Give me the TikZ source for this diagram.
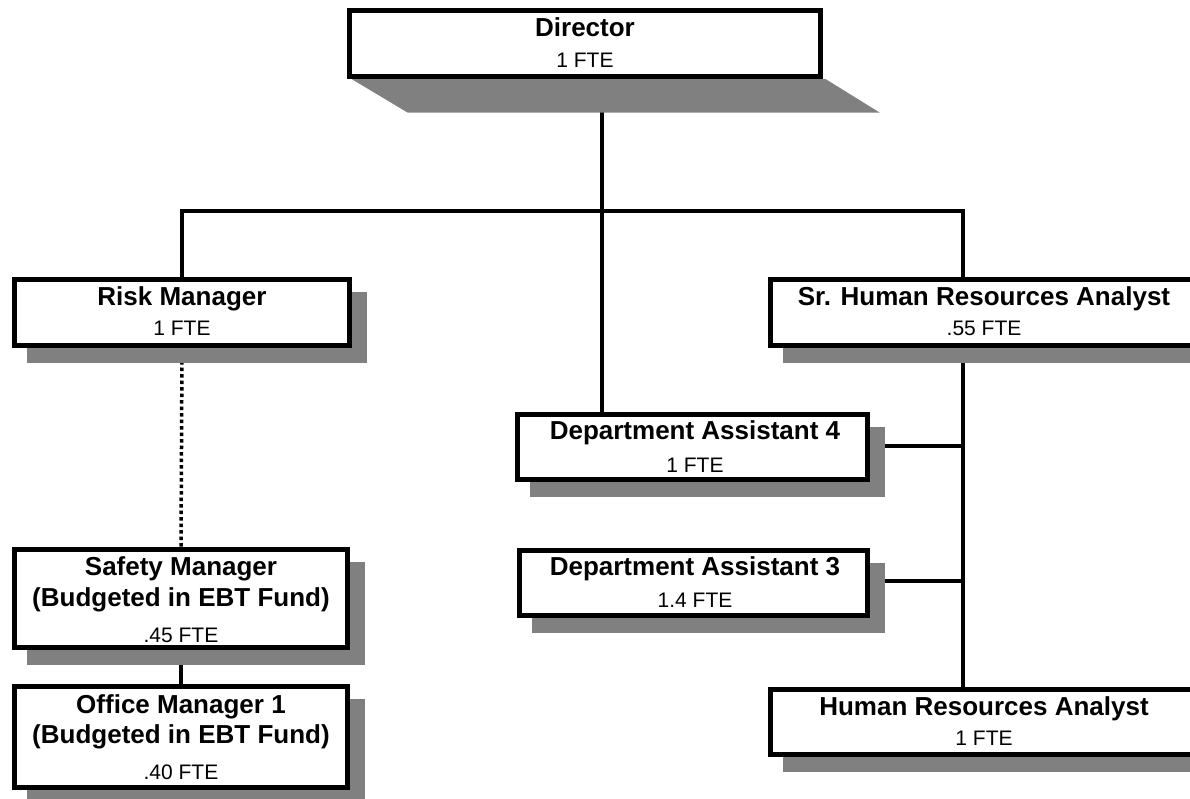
\documentclass[tikz,border=0pt]{standalone}
\usepackage{fontspec}
\setmainfont{Liberation Sans}
\usetikzlibrary{calc}
\pgfdeclarelayer{conn}
\pgfdeclarelayer{shad}
\pgfsetlayers{conn,shad,main}
\definecolor{shadowc}{HTML}{808080}
\tikzset{
  orgbox/.style={draw=black, line width=5pt, fill=white, inner sep=0pt, rectangle},
  bt/.style={anchor=base, inner sep=0pt, font=\bfseries\fontsize{26}{30}\selectfont},
  rt/.style={anchor=base, inner sep=0pt, font=\fontsize{21}{24}\selectfont},
  link/.style={draw=black, line width=3.5pt},
  dotlink/.style={draw=black, line width=3.5pt, dash pattern=on 3.5pt off 3pt},
  shade/.style={fill=shadowc}
}
\begin{document}
\begin{tikzpicture}[x=1pt,y=-1pt]
\useasboundingbox (0,0) rectangle (1190,798);

% boxes
\node[orgbox, minimum width=471pt, minimum height=66pt] (dir) at (585,43.5) {};
\node[orgbox, minimum width=335pt, minimum height=66pt] (risk) at (182,312.5) {};
\node[orgbox, minimum width=427pt, minimum height=66pt] (srhr) at (984,312.5) {};
\node[orgbox, minimum width=350pt, minimum height=65pt] (da4) at (692.5,447) {};
\node[orgbox, minimum width=348pt, minimum height=65pt] (da3) at (693.5,583) {};
\node[orgbox, minimum width=333pt, minimum height=98pt] (safety) at (181,598.5) {};
\node[orgbox, minimum width=333pt, minimum height=101pt] (office) at (181,737) {};
\node[orgbox, minimum width=427pt, minimum height=65pt] (hr) at (984,722) {};

% texts
\node[bt] (dirA) at (585,36) {Director};
\node[rt] (dirB) at (585,67) {1 FTE};
\node[bt] (riskA) at (182,305) {Risk Manager};
\node[rt] (riskB) at (182,335) {1 FTE};
\node[bt] (srhrA) at (984,305) {Sr. Human Resources Analyst};
\node[rt] (srhrB) at (984,335) {.55 FTE};
\node[bt] (da4A) at (695,439) {Department Assistant 4};
\node[rt] (da4B) at (695,472) {1 FTE};
\node[bt] (da3A) at (695,575) {Department Assistant 3};
\node[rt] (da3B) at (695,607) {1.4 FTE};
\node[bt] (safA) at (181,575) {Safety Manager};
\node[bt] (safB) at (181,606) {(Budgeted in EBT Fund)};
\node[rt] (safC) at (181,642) {.45 FTE};
\node[bt] (offA) at (181,713) {Office Manager 1};
\node[bt] (offB) at (181,743) {(Budgeted in EBT Fund)};
\node[rt] (offC) at (181,779) {.40 FTE};
\node[bt] (hrA) at (984,715) {Human Resources Analyst};
\node[rt] (hrB) at (984,745) {1 FTE};

% junction coordinates
\coordinate (trunk) at (602,0);
\coordinate (bus) at (0,211);
\coordinate (rbus) at (963,0);
\coordinate (j4) at (0,446);
\coordinate (j3) at (0,581);

% shadows
\begin{pgfonlayer}{shad}
\fill[shade] ([xshift=4.5pt]dir.south west) -- ([xshift=2.5pt]dir.south east)
  -- ([shift={(56.5pt,-33.5pt)}]dir.south east) -- ([shift={(60.5pt,-33.5pt)}]dir.south west) -- cycle;
\foreach \b in {risk,srhr,da4,da3,safety,office,hr}{
  \fill[shade] ([shift={(14.5pt,-14.5pt)}]\b.south west) rectangle ([shift={(14.5pt,-14.5pt)}]\b.north east);
}
\end{pgfonlayer}

% connectors
\begin{pgfonlayer}{conn}
\draw[link] (dir.south -| trunk) -- (da4.north -| trunk);
\draw[link] (risk.north) |- (rbus |- bus) -- (srhr.north -| rbus);
\draw[dotlink] (risk.south) -- (safety.north);
\draw[link] (safety.south) -- (office.north);
\draw[link] (srhr.south -| rbus) -- (hr.north -| rbus);
\draw[link] (da4.east |- j4) -- (rbus |- j4);
\draw[link] (da3.east |- j3) -- (rbus |- j3);
\end{pgfonlayer}
\end{tikzpicture}
\end{document}
